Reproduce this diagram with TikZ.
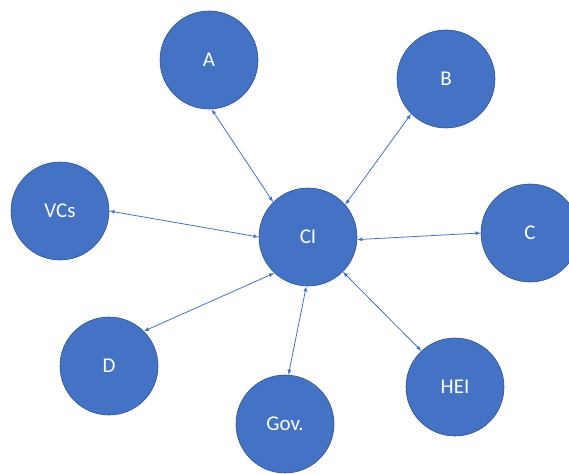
\documentclass[tikz,border=0pt]{standalone}
\usepackage{fontspec}
\setmainfont{Carlito}
\usetikzlibrary{arrows, positioning}
\definecolor{nodeblue}{HTML}{4472C4}
\definecolor{nodeline}{HTML}{2F528F}
\tikzstyle{party}  = [circle, fill=nodeblue, draw=nodeline, line width=0.6pt, minimum size=98pt, inner sep=0pt, text=white, font=\fontsize{21}{24}\selectfont]
\tikzstyle{link}   = [draw=nodeblue, line width=0.8pt, <->, >=latex]
\begin{document}
\begin{tikzpicture}[x=1pt,y=-1pt]
\useasboundingbox (0,0) rectangle (569,473);

\node[party] (CI)   at (308,237) {CI};
\node[party] (A)    at (209,60)  {A};
\node[party] (B)    at (446,79)  {B};
\node[party] (VCs)  at (60,211)  {VCs};
\node[party] (C)    at (530,233) {C};
\node[party] (D)    at (109,366) {D};
\node[party] (Gov)  at (285,424) {Gov.};
\node[party] (HEI)  at (455,387) {HEI};

\draw[link] (A.-87)   -- (CI.135);
\draw[link] (B.-135)  -- (CI.41);
\draw[link] (VCs.0)   -- (CI.180);
\draw[link] (C.180)   -- (CI.-3);
\draw[link] (D.45)    -- (CI.-133);
\draw[link] (Gov.86)  -- (CI.-92);
\draw[link] (HEI.133) -- (CI.-45);

\end{tikzpicture}
\end{document}
